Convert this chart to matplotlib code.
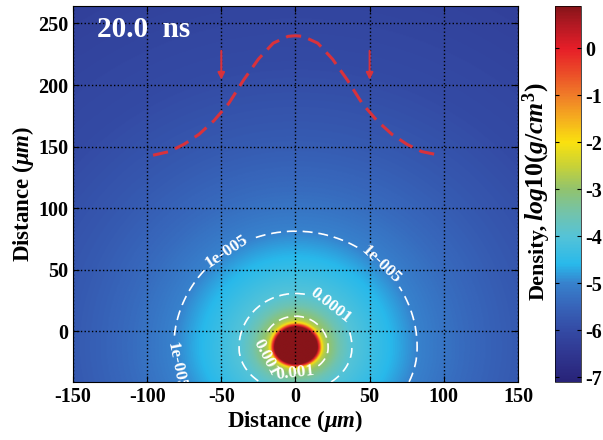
import matplotlib
matplotlib.use("Agg")
import matplotlib.pyplot as plt
import numpy as np
from matplotlib.colors import LinearSegmentedColormap

plt.rcParams['font.family'] = ['Liberation Serif', 'DejaVu Serif']
plt.rcParams['font.weight'] = 'bold'
plt.rcParams['mathtext.fontset'] = 'custom'
plt.rcParams['mathtext.rm'] = 'Liberation Serif:bold'
plt.rcParams['mathtext.it'] = 'Liberation Serif:italic:bold'
plt.rcParams['mathtext.bf'] = 'Liberation Serif:bold'
plt.rcParams['axes.unicode_minus'] = False

# radial density profile (log10 g/cm^3)
profile_r = [0, 12, 14.5, 15.5, 16.5, 17.5, 19, 22, 30, 38, 55, 82, 110, 150, 200, 280]
profile_logrho = [1.5, 1.2, 0.9, 0.0, -1.0, -2.0, -2.6, -3.0, -3.6, -4.0, -4.4, -5.0, -5.35, -5.7, -6.0, -6.25]
center_y = -13
stretch_up = 1.15
stretch_down = 0.95

# contour levels and their labels
contour_levels = [-5, -4, -3]
contour_names = ['1e-005', '0.0001', '0.001']
label_spots = [(-45, 62), (58, 55), (-80, -28), (22, 18), (-25, -25), (0, -30)]

# red dashed front
front_x = [-96, -85, -75, -65, -55, -45, -35, -25, -15, -5, 0, 5, 15, 25, 35, 45, 55, 65, 75, 85, 97]
front_y = [143, 146, 152, 160, 171, 185, 204, 221, 234, 239.5, 240, 239.5, 234, 221, 204, 185, 171, 160, 152, 146, 143]
arrow_x = [-50, 50]
arrow_top = 230
arrow_tip = 202

# colour scale sampled from the colour bar
cmap_vals = [-7.1, -6.5, -6.0, -5.5, -5.0, -4.6, -4.0, -3.5, -3.0, -2.5, -2.0, -1.5, -1.0, -0.5, 0.0, 0.5, 0.9]
cmap_rgb = [(40, 35, 120), (48, 55, 145), (52, 75, 165), (55, 100, 185), (55, 130, 205),
            (40, 185, 235), (85, 195, 215), (115, 195, 170), (145, 195, 110), (200, 210, 55),
            (250, 225, 15), (245, 175, 30), (240, 125, 40), (235, 75, 40), (230, 30, 40),
            (180, 25, 35), (135, 20, 25)]
vmin, vmax = -7.1, 0.9

pos = [(v - vmin) / (vmax - vmin) for v in cmap_vals]
cmap = LinearSegmentedColormap.from_list(
    'dens', list(zip(pos, [tuple(c / 255 for c in rgb) for rgb in cmap_rgb])))

xs = np.linspace(-150, 150, 601)
ys = np.linspace(-41, 264, 611)
X, Y = np.meshgrid(xs, ys)
stretch = np.where(Y > center_y, stretch_up, stretch_down)
R = np.sqrt(X ** 2 + ((Y - center_y) / stretch) ** 2)
Z = np.interp(R, profile_r, profile_logrho)

fig = plt.figure(figsize=(6.03, 4.4), dpi=100)
ax = fig.add_axes([0.121, 0.132, 0.738, 0.854])
cax = fig.add_axes([0.920, 0.132, 0.043, 0.854])

im = ax.imshow(Z, origin='lower', extent=[-150, 150, -41, 264], cmap=cmap,
               vmin=vmin, vmax=vmax, aspect='auto', interpolation='bilinear')

cs = ax.contour(X, Y, Z, levels=contour_levels, colors='white', linewidths=1.2,
                linestyles=[(0, (6, 3.5))])
ax.clabel(cs, fmt=dict(zip(contour_levels, contour_names)), fontsize=12.5,
          colors='white', manual=label_spots, inline=True)

ax.plot(front_x, front_y, color='#d8323c', lw=2.2, linestyle=(0, (5, 2.5)))
for xa in arrow_x:
    ax.annotate('', xy=(xa, arrow_tip), xytext=(xa, arrow_top),
                arrowprops=dict(arrowstyle='-|>', color='#d8323c', lw=1.5, mutation_scale=10))

ax.text(-134, 239, '20.0  ns', color='white', fontsize=21, fontweight='bold',
        ha='left', va='baseline')

ax.set_xlim(-150, 150)
ax.set_ylim(-41, 264)
ax.set_xticks([-150, -100, -50, 0, 50, 100, 150])
ax.set_yticks([0, 50, 100, 150, 200, 250])
ax.grid(True, color='black', linestyle=':', linewidth=1)
ax.tick_params(direction='in', top=True, right=True, labelsize=14.5, length=4)
ax.set_xlabel(r'Distance ($\mu m$)', fontsize=16.5, fontweight='bold', labelpad=1)
ax.set_ylabel(r'Distance ($\mu m$)', fontsize=16.5, fontweight='bold', labelpad=1)

cb = fig.colorbar(im, cax=cax)
cb.set_ticks([0, -1, -2, -3, -4, -5, -6, -7])
cax.tick_params(direction='in', labelsize=14.5, length=3, left=True, right=True)
cb.outline.set_linewidth(0.5)

# colour bar title, in two parts like the original
fig.text(0.902, 0.318, 'Density,', rotation=90, rotation_mode='anchor',
         ha='left', va='baseline', fontsize=16, fontweight='bold')
fig.text(0.902, 0.497, r'$\mathit{log10(g/cm^3)}$', rotation=90, rotation_mode='anchor',
         ha='left', va='baseline', fontsize=18.5)

fig.savefig('out.png', dpi=100)
